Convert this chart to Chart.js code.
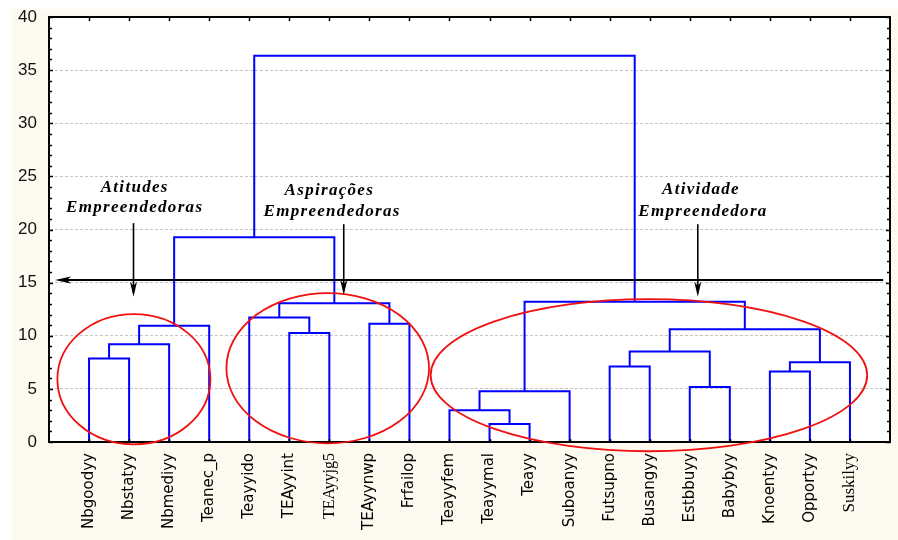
<!DOCTYPE html>
<html>
<head>
<meta charset="utf-8">
<script src="https://cdn.jsdelivr.net/npm/chart.js@4/dist/chart.umd.min.js"></script>
<style>
  html, body { margin: 0; padding: 0; background: #ffffff; }
  #wrap { width: 898px; height: 540px; }
</style>
</head>
<body>
<div id="wrap"><canvas id="c" width="898" height="540"></canvas></div>
<script>
// Leaf order along the bottom axis
const leaves = ['Nbgoodyy', 'Nbstatyy', 'Nbmediyy', 'Teanec_p', 'Teayyido', 'TEAyyint', 'TEAyyjg5',
  'TEAyynwp', 'Frfailop', 'Teayyfem', 'Teayymal', 'Teayy', 'Suboanyy', 'Futsupno', 'Busangyy',
  'Estbbuyy', 'Babybyy', 'Knoentyy', 'Opportyy', 'Suskilyy'];

// Linkage: ids 0-19 are leaves, merge k creates cluster id 20 + k
const mergeA = [0, 20, 21, 5, 4, 7, 24, 22, 10, 9, 29, 13, 15, 31, 17, 34, 33, 30, 27];
const mergeB = [1, 2, 3, 6, 23, 8, 25, 26, 11, 28, 12, 14, 16, 32, 18, 19, 35, 36, 37];
const mergeHeights = [7.85, 9.2, 10.93, 10.27, 11.72, 11.12, 13.07, 19.27, 1.70, 2.99, 4.78,
  7.10, 5.18, 8.52, 6.63, 7.51, 10.62, 13.19, 36.35];

// Axis ticks
const yTicks = [0, 5, 10, 15, 20, 25, 30, 35, 40];

// Group captions
const groupTitles = [['Atitudes', 'Empreendedoras'], ['Aspirações', 'Empreendedoras'], ['Atividade', 'Empreendedora']];
const cutHeight = 15.24;

// Cluster positions: leaves sit at 1..n, merged clusters at the midpoint of their children
const pos = leaves.map((_, i) => i + 1);
const hgt = leaves.map(() => 0);
mergeHeights.forEach((h, k) => {
  pos.push((pos[mergeA[k]] + pos[mergeB[k]]) / 2);
  hgt.push(h);
});

const datasets = mergeHeights.map((h, k) => {
  const a = mergeA[k], b = mergeB[k];
  return {
    data: [
      { x: pos[a], y: hgt[a] },
      { x: pos[a], y: h },
      { x: pos[b], y: h },
      { x: pos[b], y: hgt[b] }
    ],
    borderColor: '#0000ff',
    borderWidth: 2,
    pointRadius: 0,
    tension: 0,
    fill: false
  };
});

const CREAM = '#fefaf0';

const backdrop = {
  id: 'backdrop',
  beforeDraw(chart) {
    const { ctx, chartArea: a } = chart;
    ctx.save();
    ctx.fillStyle = '#ffffff';
    ctx.fillRect(0, 0, chart.width, chart.height);
    ctx.fillStyle = CREAM;
    ctx.fillRect(12, 9, chart.width - 12, chart.height - 9);
    ctx.fillStyle = '#ffffff';
    ctx.fillRect(a.left, a.top, a.right - a.left, a.bottom - a.top);
    ctx.restore();
  }
};

// Frame, inner tick marks, group ellipses, arrows and captions
const overlay = {
  id: 'overlay',
  afterDatasetsDraw(chart, args, opts) {
    const { ctx, chartArea: a, scales: { x, y } } = chart;
    const X = v => x.getPixelForValue(v);
    const Y = v => y.getPixelForValue(v);
    ctx.save();

    // frame
    ctx.strokeStyle = '#000';
    ctx.lineWidth = 2;
    ctx.strokeRect(a.left, a.top, a.right - a.left, a.bottom - a.top);

    // inner ticks
    ctx.lineWidth = 1.5;
    ctx.beginPath();
    for (let v = 0; v <= 40; v++) {
      const py = Math.round(Y(v)) + 0.5;
      const len = v % 5 === 0 ? 4 : 3;
      ctx.moveTo(a.left, py); ctx.lineTo(a.left + len, py);
      ctx.moveTo(a.right, py); ctx.lineTo(a.right - len, py);
    }
    for (let i = 1; i <= leaves.length; i++) {
      const px = Math.round(X(i)) + 0.5;
      ctx.moveTo(px, a.top); ctx.lineTo(px, a.top + 4);
      ctx.moveTo(px, a.bottom); ctx.lineTo(px, a.bottom - 3);
    }
    ctx.stroke();

    // ellipses around the three groups
    ctx.strokeStyle = '#f01010';
    ctx.lineWidth = 1.8;
    opts.ellipses.forEach(e => {
      const cx = X(e.cx), cy = Y(e.cy);
      const rx = Math.abs(X(e.cx + e.rx) - cx), ry = Math.abs(Y(e.cy + e.ry) - cy);
      ctx.beginPath();
      ctx.ellipse(cx, cy, rx, ry, 0, 0, Math.PI * 2);
      ctx.stroke();
    });

    // cut line with arrowhead at the left
    ctx.strokeStyle = '#000';
    ctx.fillStyle = '#000';
    ctx.lineWidth = 2;
    const cy = Y(cutHeight);
    const x0 = X(opts.cut.from), x1 = X(opts.cut.to);
    ctx.beginPath();
    ctx.moveTo(x0 + 4, cy); ctx.lineTo(x1, cy);
    ctx.stroke();
    ctx.beginPath();
    ctx.moveTo(x0, cy);
    ctx.lineTo(x0 + 16, cy - 3.5);
    ctx.lineTo(x0 + 12, cy);
    ctx.lineTo(x0 + 16, cy + 3.5);
    ctx.closePath();
    ctx.fill();

    // downward arrows
    ctx.lineWidth = 1.6;
    opts.arrows.forEach(ar => {
      const px = X(ar.x), top = Y(ar.from), tip = Y(ar.to);
      ctx.beginPath();
      ctx.moveTo(px, top); ctx.lineTo(px, tip - 4);
      ctx.stroke();
      ctx.beginPath();
      ctx.moveTo(px, tip);
      ctx.lineTo(px - 3.5, tip - 15);
      ctx.lineTo(px, tip - 11);
      ctx.lineTo(px + 3.5, tip - 15);
      ctx.closePath();
      ctx.fill();
    });

    // captions
    ctx.font = 'italic bold 17px "Liberation Serif", "Times New Roman", serif';
    ctx.textAlign = 'center';
    ctx.textBaseline = 'alphabetic';
    if ('letterSpacing' in ctx) ctx.letterSpacing = '1.3px';
    ctx.fillStyle = '#000';
    opts.captions.forEach((c, i) => {
      ctx.fillText(groupTitles[i][0], X(c.x1), Y(c.y1));
      ctx.fillText(groupTitles[i][1], X(c.x2), Y(c.y2));
    });
    ctx.restore();
  }
};

new Chart(document.getElementById('c'), {
  type: 'line',
  data: { datasets },
  plugins: [backdrop, overlay],
  options: {
    responsive: false,
    animation: false,
    layout: { padding: { top: 17, right: 8, left: 0, bottom: 0 } },
    plugins: {
      legend: { display: false },
      tooltip: { enabled: false },
      overlay: {
        ellipses: [
          { cx: 2.12, cy: 5.91, rx: 1.91, ry: 6.13 },
          { cx: 6.96, cy: 6.95, rx: 2.53, ry: 7.07 },
          { cx: 14.98, cy: 6.29, rx: 5.45, ry: 7.16 }
        ],
        cut: { from: 0.15, to: 20.83 },
        arrows: [
          { x: 2.11, from: 20.6, to: 13.67 },
          { x: 7.36, from: 20.5, to: 13.83 },
          { x: 16.2, from: 20.5, to: 13.67 }
        ],
        captions: [
          { x1: 2.14, y1: 23.56, x2: 2.14, y2: 21.65 },
          { x1: 7.0, y1: 23.25, x2: 7.07, y2: 21.3 },
          { x1: 16.28, y1: 23.35, x2: 16.33, y2: 21.27 }
        ]
      }
    },
    scales: {
      x: {
        type: 'linear',
        min: 0,
        max: leaves.length + 1,
        afterFit(scale) {
          scale.height = 98;
          scale.paddingLeft = 0;
          scale.paddingRight = 0;
        },
        afterBuildTicks(scale) {
          scale.ticks = leaves.map((_, i) => ({ value: i + 1 }));
        },
        grid: { display: false, drawTicks: false },
        border: { display: true, color: '#000', width: 2 },
        ticks: {
          autoSkip: false,
          maxRotation: 90,
          minRotation: 90,
          padding: 11,
          color: '#000',
          callback: v => leaves[v - 1] || '',
          font: ctx => {
            const name = leaves[ctx.index];
            if (name === 'TEAyyjg5') return { family: '"Liberation Serif", serif', size: 16 };
            if (name === 'Suskilyy') return { family: '"Liberation Serif", serif', size: 17 };
            return { family: '"DejaVu Sans", sans-serif', size: 15 };
          }
        }
      },
      y: {
        min: 0,
        max: 40,
        afterFit(scale) {
          scale.width = 49;
          scale.paddingTop = 0;
          scale.paddingBottom = 0;
        },
        afterBuildTicks(scale) {
          scale.ticks = yTicks.map(v => ({ value: v }));
        },
        grid: {
          drawTicks: false,
          color: ctx => (ctx.tick && (ctx.tick.value === 0 || ctx.tick.value === 40)) ? 'rgba(0,0,0,0)' : '#c4c4c4',
          lineWidth: 1
        },
        border: { display: true, color: '#000', width: 2, dash: [3, 2] },
        ticks: {
          padding: 12,
          color: '#111',
          font: { family: '"Liberation Sans", Arial, sans-serif', size: 17 }
        }
      }
    }
  }
});
</script>
</body>
</html>
